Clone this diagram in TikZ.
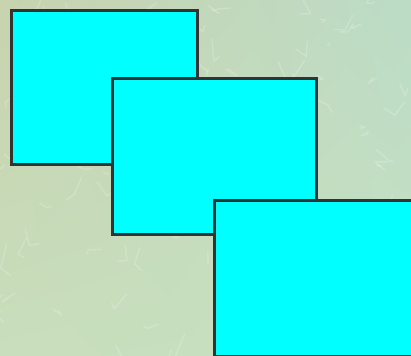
\documentclass[tikz,border=0pt]{standalone}
\usetikzlibrary{calc,shadings}
\definecolor{bgTL}{HTML}{C8D3AF}
\definecolor{bgTR}{HTML}{BCDCC6}
\definecolor{bgBL}{HTML}{C8DEBC}
\definecolor{bgBR}{HTML}{C6E0C2}
\definecolor{edge}{HTML}{333333}
\definecolor{panelfill}{HTML}{00FFFF}
\tikzset{
  panel/.style={draw=edge, line width=3pt, fill=panelfill, line join=miter, inner sep=0pt, outer sep=0pt, anchor=north west},
  crack/.style={white, opacity=0.18, line width=1.5pt, line cap=round, line join=round}
}
\begin{document}
\begin{tikzpicture}[x=1pt,y=-1pt]
\useasboundingbox (0,0) rectangle (411,355);
\begin{scope}
\clip (0,0) rectangle (411,355);
\shade[upper left=bgTL, upper right=bgTR, lower left=bgBL, lower right=bgBR] (0,0) rectangle (411,355);
\pgfmathsetseed{11}
\foreach \i in {1,...,110}{
  \pgfmathsetmacro{\xa}{rnd*411}
  \pgfmathsetmacro{\ya}{rnd*355}
  \pgfmathsetmacro{\xb}{\xa+(rnd-0.5)*26}
  \pgfmathsetmacro{\yb}{\ya+rnd*24}
  \pgfmathsetmacro{\xc}{\xb+(rnd-0.5)*22}
  \pgfmathsetmacro{\yc}{\yb+(rnd-0.5)*16}
  \draw[crack] (\xa,\ya) -- (\xb,\yb) -- (\xc,\yc);
}
\node[panel, minimum width=186.5pt, minimum height=154.5pt] (p1) at (11,10.3) {};
\node[panel, minimum width=203.5pt, minimum height=155.5pt] (p2) at (112.5,79) {};
\node[panel, minimum width=220pt, minimum height=156pt] (p3) at (214,200) {};
\end{scope}
\end{tikzpicture}
\end{document}
